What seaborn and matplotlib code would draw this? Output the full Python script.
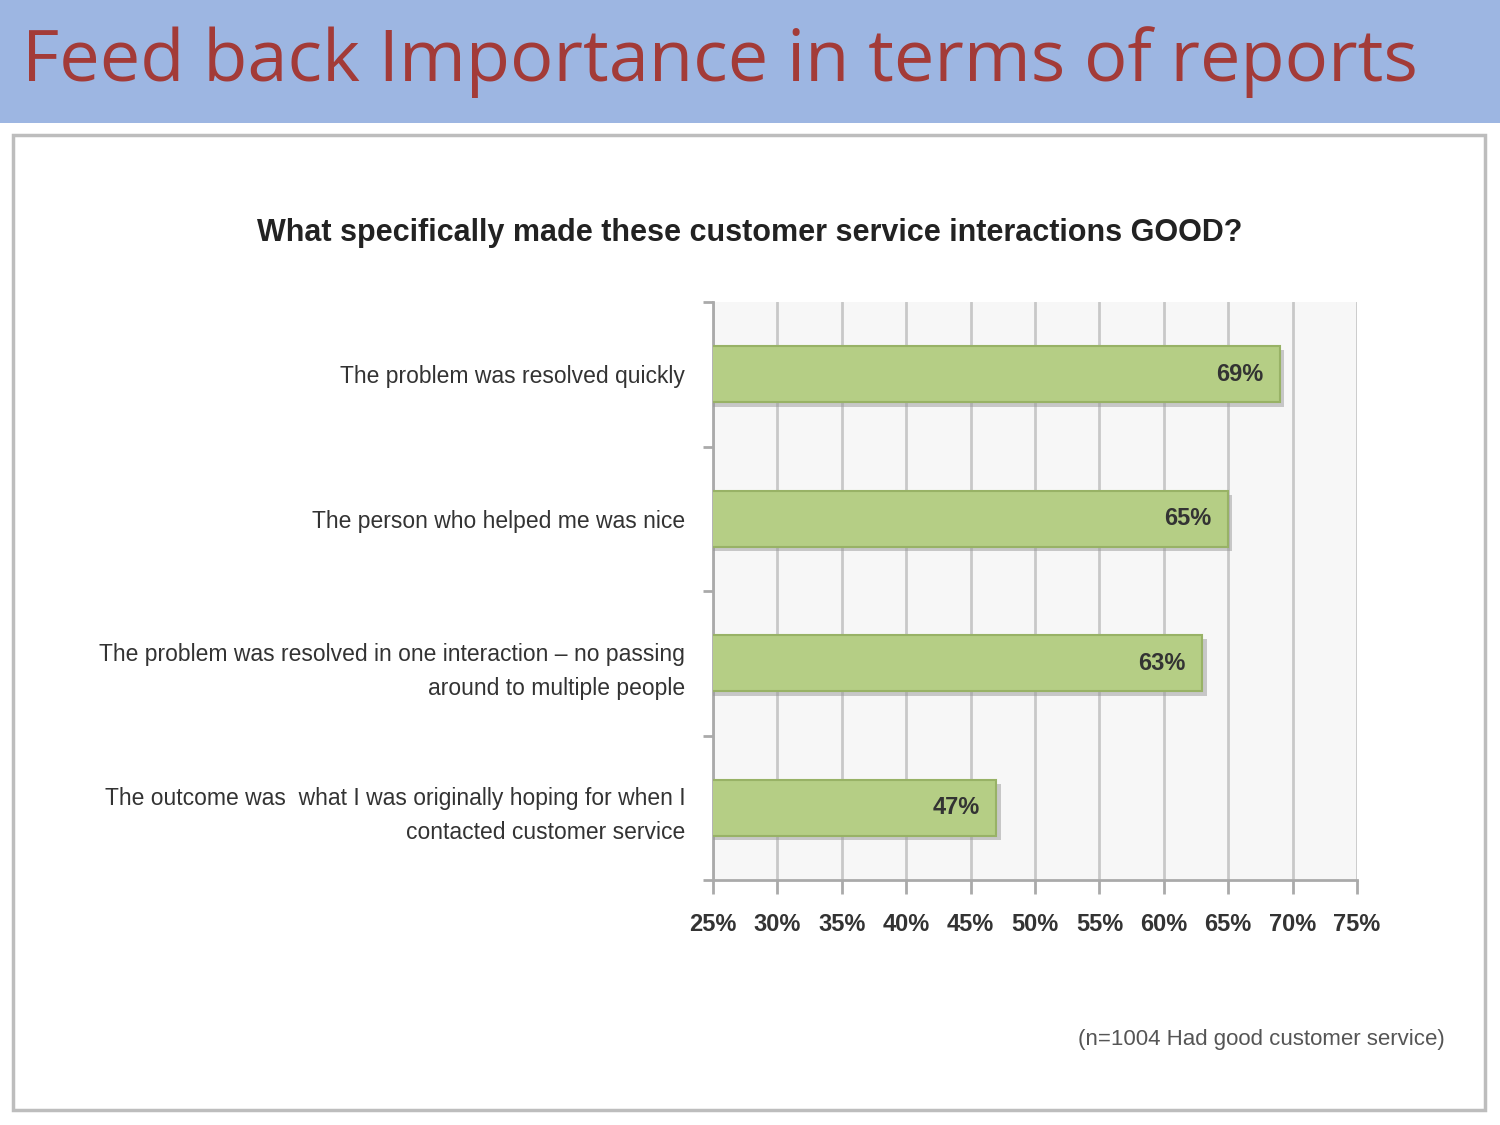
import matplotlib
matplotlib.use("Agg")
import matplotlib.pyplot as plt
import matplotlib.patches as mpatches
import matplotlib.patheffects as pe
import seaborn as sns
import pandas as pd

categories = [
    "The problem was resolved quickly",
    "The person who helped me was nice",
    "The problem was resolved in one interaction \u2013 no passing\naround to multiple people",
    "The outcome was  what I was originally hoping for when I\ncontacted customer service",
]
values = [69, 65, 63, 47]
tick_values = [25, 30, 35, 40, 45, 50, 55, 60, 65, 70, 75]
tick_labels = ["25%", "30%", "35%", "40%", "45%", "50%", "55%", "60%", "65%", "70%", "75%"]

sns.set_theme(style="white")
narrow = ["Liberation Sans Narrow", "Liberation Sans", "DejaVu Sans"]
plt.rcParams["font.family"] = narrow

fig = plt.figure(figsize=(15, 11.25), dpi=100)
fig.patch.set_facecolor("white")

# header band
fig.patches.append(mpatches.Rectangle((0, 1 - 123 / 1125), 1, 123 / 1125,
                                      transform=fig.transFigure, facecolor="#9DB6E2",
                                      edgecolor="none", zorder=-2))
fig.text(22 / 1500, 1 - 62 / 1125, "Feed back Importance in terms of reports",
         fontsize=52, color="#A33B38", va="center", ha="left",
         family=["Open Sans", "DejaVu Sans"])

# panel
fig.patches.append(mpatches.Rectangle((13 / 1500, 1 - 1110 / 1125), 1472 / 1500, 975 / 1125,
                                      transform=fig.transFigure, facecolor="white",
                                      edgecolor="#BDBDBD", linewidth=2.5, zorder=-2))

ax = fig.add_axes([713 / 1500, 1 - 880 / 1125, 644 / 1500, 578 / 1125])
ax.set_zorder(2)
df = pd.DataFrame({"cat": categories, "val": values})
sns.barplot(data=df, x="val", y="cat", orient="h", ax=ax, color="#B5CE85",
            width=0.39, edgecolor="#98B266", linewidth=1.5, saturation=1, zorder=3)
for p in ax.patches:
    p.set_path_effects([pe.SimplePatchShadow(offset=(3, -3), shadow_rgbFace="#999999", alpha=0.5),
                        pe.Normal()])

ax.set_xlim(25, 75)
ax.set_facecolor("#F7F7F7")
ax.set_xticks(tick_values)
ax.set_xticklabels(tick_labels, fontsize=17, color="#333333", fontweight="bold")
ax.set_yticks(range(len(categories)))
ax.set_yticklabels(categories, fontsize=16.5, color="#333333", linespacing=1.6)
ax.set_xlabel("")
ax.set_ylabel("")
ax.grid(axis="x", color="#C8C8C8", linewidth=2, zorder=0)
ax.set_axisbelow(True)
for s in ["top", "right"]:
    ax.spines[s].set_visible(False)
for s in ["left", "bottom"]:
    ax.spines[s].set_color("#AAAAAA")
    ax.spines[s].set_linewidth(2)

ax.tick_params(axis="x", bottom=True, direction="out", length=10, width=2, color="#AAAAAA", pad=14)
ax.tick_params(axis="y", which="major", left=False, length=0, pad=20)
ax.set_yticks([-0.5, 0.5, 1.5, 2.5, 3.5], minor=True)
ax.tick_params(axis="y", which="minor", left=True, direction="out", length=7, width=2, color="#AAAAAA")

for i, v in enumerate(values):
    ax.text(v - 1.3, i, f"{v}%", ha="right", va="center", fontsize=17,
            color="#333333", fontweight="bold", zorder=5)

fig.text(750 / 1500, 1 - 233 / 1125,
         "What specifically made these customer service interactions GOOD?",
         fontsize=22, fontweight="bold", color="#222222", ha="center", va="center")
fig.text(1445 / 1500, 1 - 1040 / 1125, "(n=1004 Had good customer service)",
         fontsize=16, color="#555555", ha="right", va="center")

fig.savefig("out.png", dpi=100, facecolor=fig.get_facecolor())
